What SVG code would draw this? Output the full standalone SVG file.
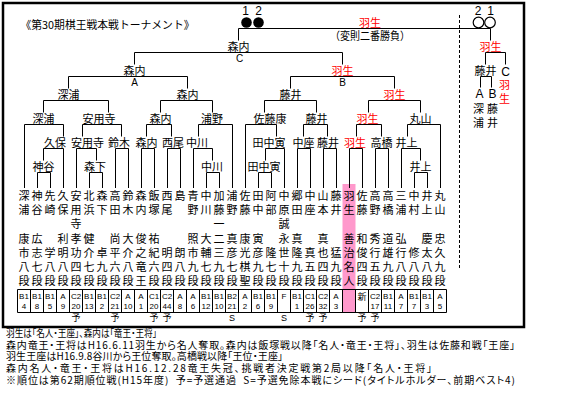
<svg xmlns="http://www.w3.org/2000/svg" width="564" height="401" viewBox="0 0 564 401">
<style>
text{font-family:"Noto Sans CJK JP","Noto Sans",sans-serif;fill:#000}
.lb{font-size:11px;text-anchor:middle}
.r{fill:#ff0000}
.nm{font-size:11px;text-anchor:middle}
.lt{font-family:"Liberation Sans",Arial,sans-serif;text-anchor:middle}
.cd{font-family:"Liberation Sans",Arial,sans-serif;font-size:8px;text-anchor:middle}
.mk{font-size:9px;text-anchor:middle}
.nt{font-size:10px;font-feature-settings:"palt"}
.ln{fill:none;stroke:#000;stroke-width:1}
</style>
<rect x="0" y="0" width="564" height="401" fill="#fff"/>
<rect x="3" y="3" width="521" height="324" fill="none" stroke="#000" stroke-width="2.5"/>
<rect x="342.5" y="184" width="13" height="128.5" fill="#ff99cc"/>
<line x1="459.5" y1="15" x2="459.5" y2="268" stroke="#000" stroke-width="1" stroke-dasharray="3,2"/>
<text x="20.5" y="29" font-size="11" textLength="174" lengthAdjust="spacingAndGlyphs">《第30期棋王戦本戦トーナメント》</text>
<g id="final">
<text class="lt" x="245.5" y="15" font-size="12">1</text>
<text class="lt" x="258.5" y="15" font-size="12">2</text>
<circle cx="246.5" cy="22.5" r="5.3" fill="#000"/>
<circle cx="258.5" cy="22.5" r="5.3" fill="#000"/>
<text class="lb r" x="370" y="27" font-size="12">羽生</text>
<text class="lb" x="370" y="39.5" textLength="80" lengthAdjust="spacingAndGlyphs">（変則二番勝負）</text>
<text class="lt" x="478" y="15" font-size="12">2</text>
<text class="lt" x="490.5" y="15" font-size="12">1</text>
<circle cx="478.5" cy="22.5" r="5.3" fill="#fff" stroke="#000" stroke-width="1.2"/>
<circle cx="490" cy="22.5" r="5.3" fill="#fff" stroke="#000" stroke-width="1.2"/>
</g>
<g id="connectors" class="ln">
<path d="M238.5 40.5V28.5H490.5V40.5"/>
<path d="M134.5 64.5V52.5H342.5V64.5"/>
<path d="M68.5 88.5V76.5H187.5V88.5"/>
<path d="M290.5 88.5V76.5H394.5V88.5"/>
<path d="M43.5 112.5V100.5H108.5V112.5"/>
<path d="M160.5 112.5V100.5H212.5V112.5"/>
<path d="M264.5 112.5V100.5H316.5V112.5"/>
<path d="M368.5 112.5V100.5H420.5V112.5"/>
<path d="M24.5 188V124.5H63.5V136.5"/>
<path d="M82.5 136.5V124.5H121.5V136.5"/>
<path d="M146.5 136.5V124.5H171.5V136.5"/>
<path d="M198.5 136.5V124.5H232.5V188"/>
<path d="M245.5 188V124.5H276.5V136.5"/>
<path d="M303.5 136.5V124.5H327.5V136.5"/>
<path d="M356.5 136.5V124.5H381.5V136.5"/>
<path d="M407.5 136.5V124.5H440.5V188"/>
<path d="M43.5 160.5V148.5H63.5V188"/>
<path d="M76.5 188V148.5H96.5V160.5"/>
<path d="M115.5 188V148.5H128.5V188"/>
<path d="M141.5 188V148.5H154.5V188"/>
<path d="M167.5 188V148.5H180.5V188"/>
<path d="M193.5 188V148.5H212.5V160.5"/>
<path d="M265.5 160.5V148.5H284.5V188"/>
<path d="M297.5 188V148.5H310.5V188"/>
<path d="M323.5 188V148.5H336.5V188"/>
<path d="M349.5 188V148.5H362.5V188"/>
<path d="M375.5 188V148.5H388.5V188"/>
<path d="M401.5 188V148.5H420.5V160.5"/>
<path d="M37.5 188V172.5H50.5V188"/>
<path d="M89.5 188V172.5H102.5V188"/>
<path d="M206.5 188V172.5H219.5V188"/>
<path d="M258.5 188V172.5H271.5V188"/>
<path d="M414.5 188V172.5H427.5V188"/>
<path d="M485.5 64.5V52.5H505.5V64.5"/>
<path d="M480.5 87.5V76.5H491.5V87.5"/>
</g>
<g id="n-C"><text class="lb" x="238.5" y="50.5">森内</text><text class="lt" x="239.5" y="62" font-size="10">C</text></g>
<g id="n-A"><text class="lb" x="134.5" y="74.5">森内</text><text class="lt" x="134.5" y="86" font-size="10">A</text></g>
<g id="n-B"><text class="lb r" x="342.5" y="74.5">羽生</text><text class="lt" x="342.5" y="86" font-size="10">B</text></g>
<g id="n4-1"><text class="lb" x="68.5" y="98.5">深浦</text></g>
<g id="n4-2"><text class="lb" x="187.5" y="98.5">森内</text></g>
<g id="n4-3"><text class="lb" x="290.5" y="98.5">藤井</text></g>
<g id="n4-4"><text class="lb r" x="394.5" y="98.5">羽生</text></g>
<g id="n5-1"><text class="lb" x="43.5" y="122.5">深浦</text></g>
<g id="n5-2"><text class="lb" x="99" y="122.5">安用寺</text></g>
<g id="n5-3"><text class="lb" x="160.5" y="122.5">森内</text></g>
<g id="n5-4"><text class="lb" x="212" y="122.5">浦野</text></g>
<g id="n5-5"><text class="lb" x="270" y="122.5">佐藤康</text></g>
<g id="n5-6"><text class="lb" x="316.5" y="122.5">藤井</text></g>
<g id="n5-7"><text class="lb r" x="367.5" y="122.5">羽生</text></g>
<g id="n5-8"><text class="lb" x="420.5" y="122.5">丸山</text></g>
<g id="n6-1"><text class="lb" x="55" y="146.5">久保</text></g>
<g id="n6-2"><text class="lb" x="87.5" y="146.5">安用寺</text></g>
<g id="n6-3"><text class="lb" x="119" y="146.5">鈴木</text></g>
<g id="n6-4"><text class="lb" x="146.5" y="146.5">森内</text></g>
<g id="n6-5"><text class="lb" x="173" y="146.5">西尾</text></g>
<g id="n6-6"><text class="lb" x="197" y="146.5">中川</text></g>
<g id="n6-7"><text class="lb" x="269" y="146.5">田中寅</text></g>
<g id="n6-8"><text class="lb" x="303.5" y="146.5">中座</text></g>
<g id="n6-9"><text class="lb" x="328" y="146.5">藤井</text></g>
<g id="n6-10"><text class="lb r" x="355" y="146.5">羽生</text></g>
<g id="n6-11"><text class="lb" x="381.5" y="146.5">高橋</text></g>
<g id="n6-12"><text class="lb" x="406.5" y="146.5">井上</text></g>
<g id="n7-1"><text class="lb" x="43.5" y="170.5">神谷</text></g>
<g id="n7-2"><text class="lb" x="95" y="170.5">森下</text></g>
<g id="n7-3"><text class="lb" x="212" y="170.5">中川</text></g>
<g id="n7-4"><text class="lb" x="264" y="170.5" font-size="8">田中寅</text></g>
<g id="n7-5"><text class="lb" x="420.5" y="170.5">井上</text></g>
<g id="side">
<text class="lb r" x="490.5" y="50.5">羽生</text>
<text class="lb" x="485.5" y="74.5">藤井</text>
<text class="lt" x="505.5" y="75.5" font-size="12">C</text>
<text class="lt" x="479.5" y="98" font-size="12">A</text>
<text class="lt" x="492.5" y="98" font-size="12">B</text>
<text class="lb" font-size="12"><tspan x="478.5" y="112.5">深</tspan><tspan x="478.5" y="126.5">浦</tspan></text>
<text class="lb" font-size="12"><tspan x="492.5" y="112.5">藤</tspan><tspan x="492.5" y="126.5">井</tspan></text>
<text class="lb r" font-size="13"><tspan x="504.5" y="88.5">羽</tspan><tspan x="504.5" y="102.5">生</tspan></text>
</g>
<g id="players" class="nm">
<g id="p1"><text class="nm"><tspan x="24" y="200">深</tspan><tspan x="24" y="214">浦</tspan><tspan x="24" y="243">康</tspan><tspan x="24" y="257">市</tspan><tspan x="24" y="271">八</tspan><tspan x="24" y="285">段</tspan></text></g>
<g id="p2"><text class="nm"><tspan x="37" y="200">神</tspan><tspan x="37" y="214">谷</tspan><tspan x="37" y="243">広</tspan><tspan x="37" y="257">志</tspan><tspan x="37" y="271">七</tspan><tspan x="37" y="285">段</tspan></text></g>
<g id="p3"><text class="nm"><tspan x="50" y="200">先</tspan><tspan x="50" y="214">崎</tspan><tspan x="50" y="257">学</tspan><tspan x="50" y="271">八</tspan><tspan x="50" y="285">段</tspan></text></g>
<g id="p4"><text class="nm"><tspan x="63" y="200">久</tspan><tspan x="63" y="214">保</tspan><tspan x="63" y="243">利</tspan><tspan x="63" y="257">明</tspan><tspan x="63" y="271">八</tspan><tspan x="63" y="285">段</tspan></text></g>
<g id="p5"><text class="nm"><tspan x="76" y="200">安</tspan><tspan x="76" y="214">用</tspan><tspan x="76" y="228">寺</tspan><tspan x="76" y="243">孝</tspan><tspan x="76" y="257">功</tspan><tspan x="76" y="271">四</tspan><tspan x="76" y="285">段</tspan></text></g>
<g id="p6"><text class="nm"><tspan x="89" y="200">北</tspan><tspan x="89" y="214">浜</tspan><tspan x="89" y="243">健</tspan><tspan x="89" y="257">介</tspan><tspan x="89" y="271">七</tspan><tspan x="89" y="285">段</tspan></text></g>
<g id="p7"><text class="nm"><tspan x="102" y="200">森</tspan><tspan x="102" y="214">下</tspan><tspan x="102" y="257">卓</tspan><tspan x="102" y="271">九</tspan><tspan x="102" y="285">段</tspan></text></g>
<g id="p8"><text class="nm"><tspan x="115" y="200">高</tspan><tspan x="115" y="214">田</tspan><tspan x="115" y="243">尚</tspan><tspan x="115" y="257">平</tspan><tspan x="115" y="271">六</tspan><tspan x="115" y="285">段</tspan></text></g>
<g id="p9"><text class="nm"><tspan x="128" y="200">鈴</tspan><tspan x="128" y="214">木</tspan><tspan x="128" y="243">大</tspan><tspan x="128" y="257">介</tspan><tspan x="128" y="271">八</tspan><tspan x="128" y="285">段</tspan></text></g>
<g id="p10"><text class="nm"><tspan x="141" y="200">森</tspan><tspan x="141" y="214">内</tspan><tspan x="141" y="243">俊</tspan><tspan x="141" y="257">之</tspan><tspan x="141" y="271">竜</tspan><tspan x="141" y="285">王</tspan></text></g>
<g id="p11"><text class="nm"><tspan x="154" y="200">飯</tspan><tspan x="154" y="214">塚</tspan><tspan x="154" y="243">祐</tspan><tspan x="154" y="257">紀</tspan><tspan x="154" y="271">六</tspan><tspan x="154" y="285">段</tspan></text></g>
<g id="p12"><text class="nm"><tspan x="167" y="200">西</tspan><tspan x="167" y="214">尾</tspan><tspan x="167" y="257">明</tspan><tspan x="167" y="271">四</tspan><tspan x="167" y="285">段</tspan></text></g>
<g id="p13"><text class="nm"><tspan x="180" y="200">島</tspan><tspan x="180" y="257">朗</tspan><tspan x="180" y="271">八</tspan><tspan x="180" y="285">段</tspan></text></g>
<g id="p14"><text class="nm"><tspan x="193" y="200">青</tspan><tspan x="193" y="214">野</tspan><tspan x="193" y="243">照</tspan><tspan x="193" y="257">市</tspan><tspan x="193" y="271">九</tspan><tspan x="193" y="285">段</tspan></text></g>
<g id="p15"><text class="nm"><tspan x="206" y="200">中</tspan><tspan x="206" y="214">川</tspan><tspan x="206" y="243">大</tspan><tspan x="206" y="257">輔</tspan><tspan x="206" y="271">七</tspan><tspan x="206" y="285">段</tspan></text></g>
<g id="p16"><text class="nm"><tspan x="219" y="200">加</tspan><tspan x="219" y="214">藤</tspan><tspan x="219" y="228">一</tspan><tspan x="219" y="243">二</tspan><tspan x="219" y="257">三</tspan><tspan x="219" y="271">九</tspan><tspan x="219" y="285">段</tspan></text></g>
<g id="p17"><text class="nm"><tspan x="232" y="200">浦</tspan><tspan x="232" y="214">野</tspan><tspan x="232" y="243">真</tspan><tspan x="232" y="257">彦</tspan><tspan x="232" y="271">七</tspan><tspan x="232" y="285">段</tspan></text></g>
<g id="p18"><text class="nm"><tspan x="245" y="200">佐</tspan><tspan x="245" y="214">藤</tspan><tspan x="245" y="243">康</tspan><tspan x="245" y="257">光</tspan><tspan x="245" y="271">棋</tspan><tspan x="245" y="285">聖</tspan></text></g>
<g id="p19"><text class="nm"><tspan x="258" y="200">田</tspan><tspan x="258" y="214">中</tspan><tspan x="258" y="243">寅</tspan><tspan x="258" y="257">彦</tspan><tspan x="258" y="271">九</tspan><tspan x="258" y="285">段</tspan></text></g>
<g id="p20"><text class="nm"><tspan x="271" y="200">阿</tspan><tspan x="271" y="214">部</tspan><tspan x="271" y="257">隆</tspan><tspan x="271" y="271">七</tspan><tspan x="271" y="285">段</tspan></text></g>
<g id="p21"><text class="nm"><tspan x="284" y="200">中</tspan><tspan x="284" y="214">原</tspan><tspan x="284" y="228">誠</tspan><tspan x="284" y="243">永</tspan><tspan x="284" y="257">世</tspan><tspan x="284" y="271">十</tspan><tspan x="284" y="285">段</tspan></text></g>
<g id="p22"><text class="nm"><tspan x="297" y="200">郷</tspan><tspan x="297" y="214">田</tspan><tspan x="297" y="243">真</tspan><tspan x="297" y="257">隆</tspan><tspan x="297" y="271">九</tspan><tspan x="297" y="285">段</tspan></text></g>
<g id="p23"><text class="nm"><tspan x="310" y="200">中</tspan><tspan x="310" y="214">座</tspan><tspan x="310" y="257">真</tspan><tspan x="310" y="271">五</tspan><tspan x="310" y="285">段</tspan></text></g>
<g id="p24"><text class="nm"><tspan x="323" y="200">山</tspan><tspan x="323" y="214">本</tspan><tspan x="323" y="243">真</tspan><tspan x="323" y="257">也</tspan><tspan x="323" y="271">四</tspan><tspan x="323" y="285">段</tspan></text></g>
<g id="p25"><text class="nm"><tspan x="336" y="200">藤</tspan><tspan x="336" y="214">井</tspan><tspan x="336" y="257">猛</tspan><tspan x="336" y="271">九</tspan><tspan x="336" y="285">段</tspan></text></g>
<g id="p26"><text class="nm"><tspan x="349" y="200">羽</tspan><tspan x="349" y="214">生</tspan><tspan x="349" y="243">善</tspan><tspan x="349" y="257">治</tspan><tspan x="349" y="271">名</tspan><tspan x="349" y="285">人</tspan></text></g>
<g id="p27"><text class="nm"><tspan x="362" y="200">佐</tspan><tspan x="362" y="214">藤</tspan><tspan x="362" y="243">和</tspan><tspan x="362" y="257">俊</tspan><tspan x="362" y="271">四</tspan><tspan x="362" y="285">段</tspan></text></g>
<g id="p28"><text class="nm"><tspan x="375" y="200">高</tspan><tspan x="375" y="214">野</tspan><tspan x="375" y="243">秀</tspan><tspan x="375" y="257">行</tspan><tspan x="375" y="271">五</tspan><tspan x="375" y="285">段</tspan></text></g>
<g id="p29"><text class="nm"><tspan x="388" y="200">高</tspan><tspan x="388" y="214">橋</tspan><tspan x="388" y="243">道</tspan><tspan x="388" y="257">雄</tspan><tspan x="388" y="271">九</tspan><tspan x="388" y="285">段</tspan></text></g>
<g id="p30"><text class="nm"><tspan x="401" y="200">三</tspan><tspan x="401" y="214">浦</tspan><tspan x="401" y="243">弘</tspan><tspan x="401" y="257">行</tspan><tspan x="401" y="271">八</tspan><tspan x="401" y="285">段</tspan></text></g>
<g id="p31"><text class="nm"><tspan x="414" y="200">中</tspan><tspan x="414" y="214">村</tspan><tspan x="414" y="257">修</tspan><tspan x="414" y="271">八</tspan><tspan x="414" y="285">段</tspan></text></g>
<g id="p32"><text class="nm"><tspan x="427" y="200">井</tspan><tspan x="427" y="214">上</tspan><tspan x="427" y="243">慶</tspan><tspan x="427" y="257">太</tspan><tspan x="427" y="271">八</tspan><tspan x="427" y="285">段</tspan></text></g>
<g id="p33"><text class="nm"><tspan x="440" y="200">丸</tspan><tspan x="440" y="214">山</tspan><tspan x="440" y="243">忠</tspan><tspan x="440" y="257">久</tspan><tspan x="440" y="271">九</tspan><tspan x="440" y="285">段</tspan></text></g>
</g>
<g id="ranks">
<path class="ln" d="M17.5 289.5H446.5M17.5 312.5H446.5M17.5 289.5V312.5M30.5 289.5V312.5M43.5 289.5V312.5M56.5 289.5V312.5M69.5 289.5V312.5M82.5 289.5V312.5M95.5 289.5V312.5M108.5 289.5V312.5M121.5 289.5V312.5M134.5 289.5V312.5M147.5 289.5V312.5M160.5 289.5V312.5M173.5 289.5V312.5M186.5 289.5V312.5M199.5 289.5V312.5M212.5 289.5V312.5M225.5 289.5V312.5M238.5 289.5V312.5M251.5 289.5V312.5M264.5 289.5V312.5M277.5 289.5V312.5M290.5 289.5V312.5M303.5 289.5V312.5M316.5 289.5V312.5M329.5 289.5V312.5M342.5 289.5V312.5M355.5 289.5V312.5M368.5 289.5V312.5M381.5 289.5V312.5M394.5 289.5V312.5M407.5 289.5V312.5M420.5 289.5V312.5M433.5 289.5V312.5M446.5 289.5V312.5"/>
<text class="cd" y="298.5"><tspan x="24">B1</tspan><tspan x="37">B1</tspan><tspan x="50">B1</tspan><tspan x="63">A</tspan><tspan x="76">C2</tspan><tspan x="89">B1</tspan><tspan x="102">B1</tspan><tspan x="115">C2</tspan><tspan x="128">A</tspan><tspan x="141">A</tspan><tspan x="154">C1</tspan><tspan x="167">C2</tspan><tspan x="180">A</tspan><tspan x="193">A</tspan><tspan x="206">B1</tspan><tspan x="219">B1</tspan><tspan x="232">B2</tspan><tspan x="245">A</tspan><tspan x="258">B1</tspan><tspan x="271">B1</tspan><tspan x="284">F</tspan><tspan x="297">B1</tspan><tspan x="310">C1</tspan><tspan x="323">C2</tspan><tspan x="336">A</tspan><tspan x="375">C2</tspan><tspan x="388">B1</tspan><tspan x="401">A</tspan><tspan x="414">B1</tspan><tspan x="427">B1</tspan><tspan x="440">A</tspan></text>
<text class="cd" y="308.5"><tspan x="24">4</tspan><tspan x="37">8</tspan><tspan x="50">5</tspan><tspan x="63">9</tspan><tspan x="76">20</tspan><tspan x="89">13</tspan><tspan x="102">2</tspan><tspan x="115">21</tspan><tspan x="128">10</tspan><tspan x="141">1</tspan><tspan x="154">20</tspan><tspan x="167">44</tspan><tspan x="180">8</tspan><tspan x="193">6</tspan><tspan x="206">12</tspan><tspan x="219">10</tspan><tspan x="232">21</tspan><tspan x="245">2</tspan><tspan x="258">6</tspan><tspan x="271">9</tspan><tspan x="297">1</tspan><tspan x="310">26</tspan><tspan x="323">32</tspan><tspan x="336">3</tspan><tspan x="375">17</tspan><tspan x="388">11</tspan><tspan x="401">7</tspan><tspan x="414">7</tspan><tspan x="427">3</tspan><tspan x="440">5</tspan></text>
<text class="mk" x="362" y="300" font-size="10">新</text>
<text class="mk" y="321"><tspan x="76">予</tspan><tspan x="115">予</tspan><tspan x="154">予</tspan><tspan x="167">予</tspan><tspan x="310">予</tspan><tspan x="323">予</tspan><tspan x="362">予</tspan><tspan x="375">予</tspan></text>
<text class="lt" font-size="9" y="321"><tspan x="232">S</tspan><tspan x="284">S</tspan></text>
</g>
<g id="notes">
<text class="nt" x="6" y="337" textLength="151" lengthAdjust="spacingAndGlyphs">羽生は「名人・王座」、森内は「竜王・王将」</text>
<text class="nt" x="6" y="348.7" textLength="509" lengthAdjust="spacing">森内竜王・王将はH16.6.11羽生から名人奪取。森内は飯塚戦以降「名人・竜王・王将」、羽生は佐藤和戦「王座」</text>
<text class="nt" x="6" y="360.4" textLength="277" lengthAdjust="spacing">羽生王座はH16.9.8谷川から王位奪取。高橋戦以降「王位・王座」</text>
<text class="nt" x="6" y="372.1" textLength="426" lengthAdjust="spacing">森内名人・竜王・王将はH16.12.28竜王失冠、挑戦者決定戦第2局以降「名人・王将」</text>
<text class="nt" x="6" y="383.8" textLength="509" lengthAdjust="spacing" xml:space="preserve">※順位は第62期順位戦(H15年度)  予=予選通過  S=予選免除本戦にシード(タイトルホルダー、前期ベスト4)</text>
</g>
</svg>
